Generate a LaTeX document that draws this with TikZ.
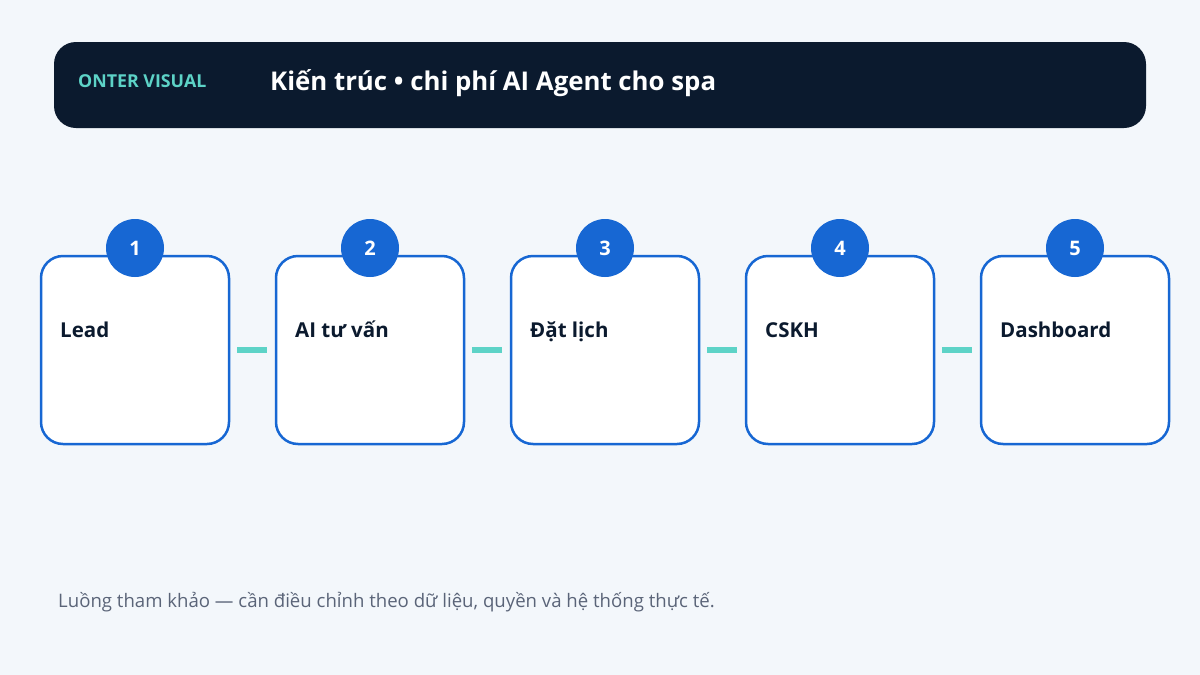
\documentclass[tikz,border=0pt]{standalone}
\usepackage{fontspec}
\setmainfont{Open Sans}
\usepackage{tikz}
\usetikzlibrary{positioning,calc}
\definecolor{pagebg}{HTML}{F3F7FB}
\definecolor{headbg}{HTML}{0B1A2E}
\definecolor{tealc}{HTML}{5DD3C7}
\definecolor{bluec}{HTML}{1767D3}
\definecolor{footc}{HTML}{5A6478}
\tikzset{
  stepbox/.style={draw=bluec, line width=2.5pt, fill=white, rounded corners=22pt,
    minimum width=188pt, minimum height=188pt, inner sep=0pt},
  stepnum/.style={circle, fill=bluec, minimum size=58pt, inner sep=0pt,
    text=white, font=\fontsize{20}{20}\selectfont\bfseries},
  steplabel/.style={anchor=base west, inner sep=0pt, text=headbg,
    font=\fontsize{20.5}{21}\selectfont\bfseries},
  link/.style={draw=tealc, line width=6pt, shorten <=7pt, shorten >=8pt}
}

\begin{document}
\begin{tikzpicture}[x=1pt, y=-1pt]
      \useasboundingbox[fill=pagebg] (0, 0) rectangle (1200, 675);

      % header bar
      \node[fill=headbg, rounded corners=22pt, minimum width=1092pt, minimum height=86pt,
        inner sep=0pt] (head) at (600, 85) {};
      \node[anchor=base west, inner sep=0pt, text=tealc, font=\fontsize{17.8}{18}\selectfont\bfseries]
        (brand) at (78, 87) {ONTER VISUAL};
      \node[anchor=base west, inner sep=0pt, text=white, font=\fontsize{25.8}{26}\selectfont\bfseries]
        (title) at (270, 90) {Kiến trúc • chi phí AI Agent cho spa};

      % steps
      \node[stepbox] (b1) at (135, 350) {};
      \node[stepbox] (b2) at (370, 350) {};
      \node[stepbox] (b3) at (605, 350) {};
      \node[stepbox] (b4) at (840, 350) {};
      \node[stepbox] (b5) at (1075, 350) {};

      \node[stepnum] (n1) at (135, 248) {1};
      \node[stepnum] (n2) at (370, 248) {2};
      \node[stepnum] (n3) at (605, 248) {3};
      \node[stepnum] (n4) at (840, 248) {4};
      \node[stepnum] (n5) at (1075, 248) {5};

      \node[steplabel] (t1) at (60, 337) {Lead};
      \node[steplabel] (t2) at (295, 337) {AI tư vấn};
      \node[steplabel] (t3) at (530, 337) {Đặt lịch};
      \node[steplabel] (t4) at (765, 337) {CSKH};
      \node[steplabel] (t5) at (1000, 337) {Dashboard};

      \draw[link] (b1) -- (b2);
      \draw[link] (b2) -- (b3);
      \draw[link] (b3) -- (b4);
      \draw[link] (b4) -- (b5);

      % footer note
      \node[anchor=base west, inner sep=0pt, text=footc, font=\fontsize{18.6}{19}\selectfont]
        (note) at (58, 607) {Luồng tham khảo — cần điều chỉnh theo dữ liệu, quyền và hệ thống thực tế.};

    \end{tikzpicture}
\end{document}
